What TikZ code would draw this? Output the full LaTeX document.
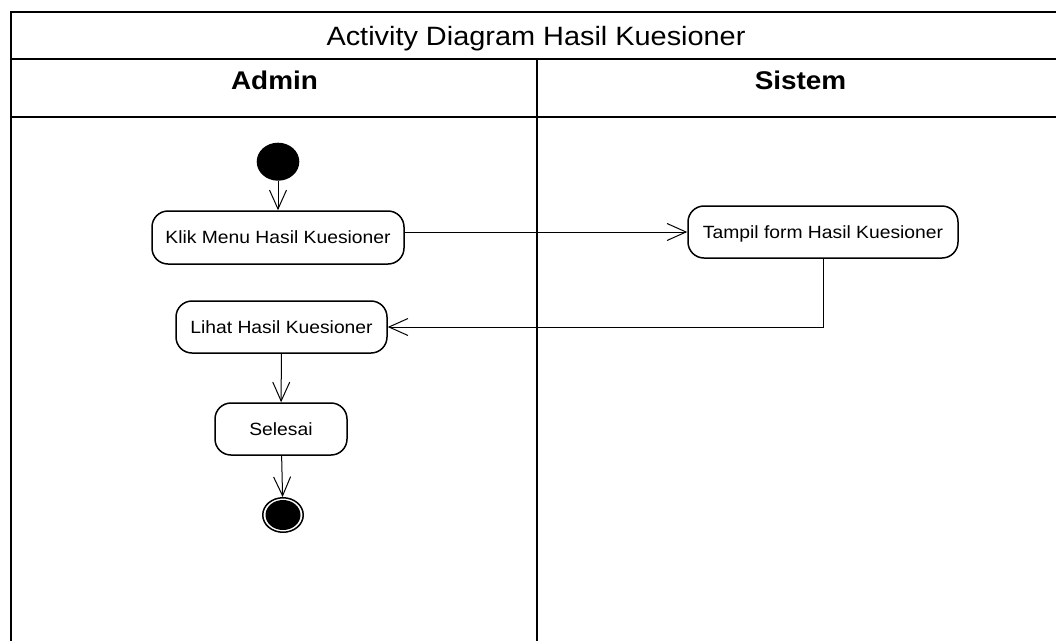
\documentclass[tikz,border=0pt]{standalone}
\usepackage{fontspec}
\setmainfont{Liberation Sans}[FakeStretch=1.09]
\usetikzlibrary{arrows.meta,shapes.geometric}
\begin{document}
\begin{tikzpicture}[x=1pt,y=-1pt,
  act/.style={draw,line width=1.5pt,rounded corners=16pt,minimum height=52pt,
    inner sep=0pt,text height=12.7pt,text depth=0pt,font=\fontsize{17.7}{20}\selectfont},
  flow/.style={line width=1pt,-{Straight Barb[length=19pt,width=17pt,line width=1pt]}},
  frame/.style={line width=2pt},
  lane/.style={anchor=base,inner sep=0pt,font=\fontsize{25.6}{28}\selectfont\bfseries}]
\useasboundingbox (0,0) rectangle (1056,640);
\clip (0,0) rectangle (1056,640);
\fill[white] (0,0) rectangle (1056,640);
% frame
\draw[frame] (11,700) -- (11,12) -- (1080,12);
\draw[frame] (11,59) -- (1080,59);
\draw[frame] (11,117) -- (1080,117);
\draw[frame] (537,59) -- (537,700);
% headers
\node[anchor=base,inner sep=0pt,font=\fontsize{26.5}{30}\selectfont] (title) at (536,45.7) {Activity Diagram Hasil Kuesioner};
\node[lane] (admin) at (274.5,89.3) {Admin};
\node[lane] (sistem) at (800.5,89.3) {Sistem};
% nodes
\node[ellipse,fill=black,minimum width=42.6pt,minimum height=38pt,inner sep=0pt] (start) at (278,161.7) {};
\node[act,minimum width=252pt,minimum height=53pt] (klik) at (278,237.5) {Klik Menu Hasil Kuesioner};
\node[act,minimum width=270pt] (tampil) at (823,232) {Tampil form Hasil Kuesioner};
\node[act,minimum width=211pt] (lihat) at (281.5,327) {Lihat Hasil Kuesioner};
\node[act,minimum width=132pt] (selesai) at (281,429) {Selesai};
\node[ellipse,draw,line width=1.5pt,minimum width=40.5pt,minimum height=34.5pt,inner sep=0pt] (end) at (283,515) {};
\fill[black] (end.center) ellipse [x radius=17.5pt,y radius=15pt];
% connectors
\draw[flow] (start) -- (klik);
\draw[flow] (klik.east |- tampil.west) -- (tampil.west);
\draw[flow] (tampil.south) |- (lihat.east);
\draw[flow] (lihat) -- (selesai);
\draw[flow] (selesai) -- (end);
\end{tikzpicture}
\end{document}
